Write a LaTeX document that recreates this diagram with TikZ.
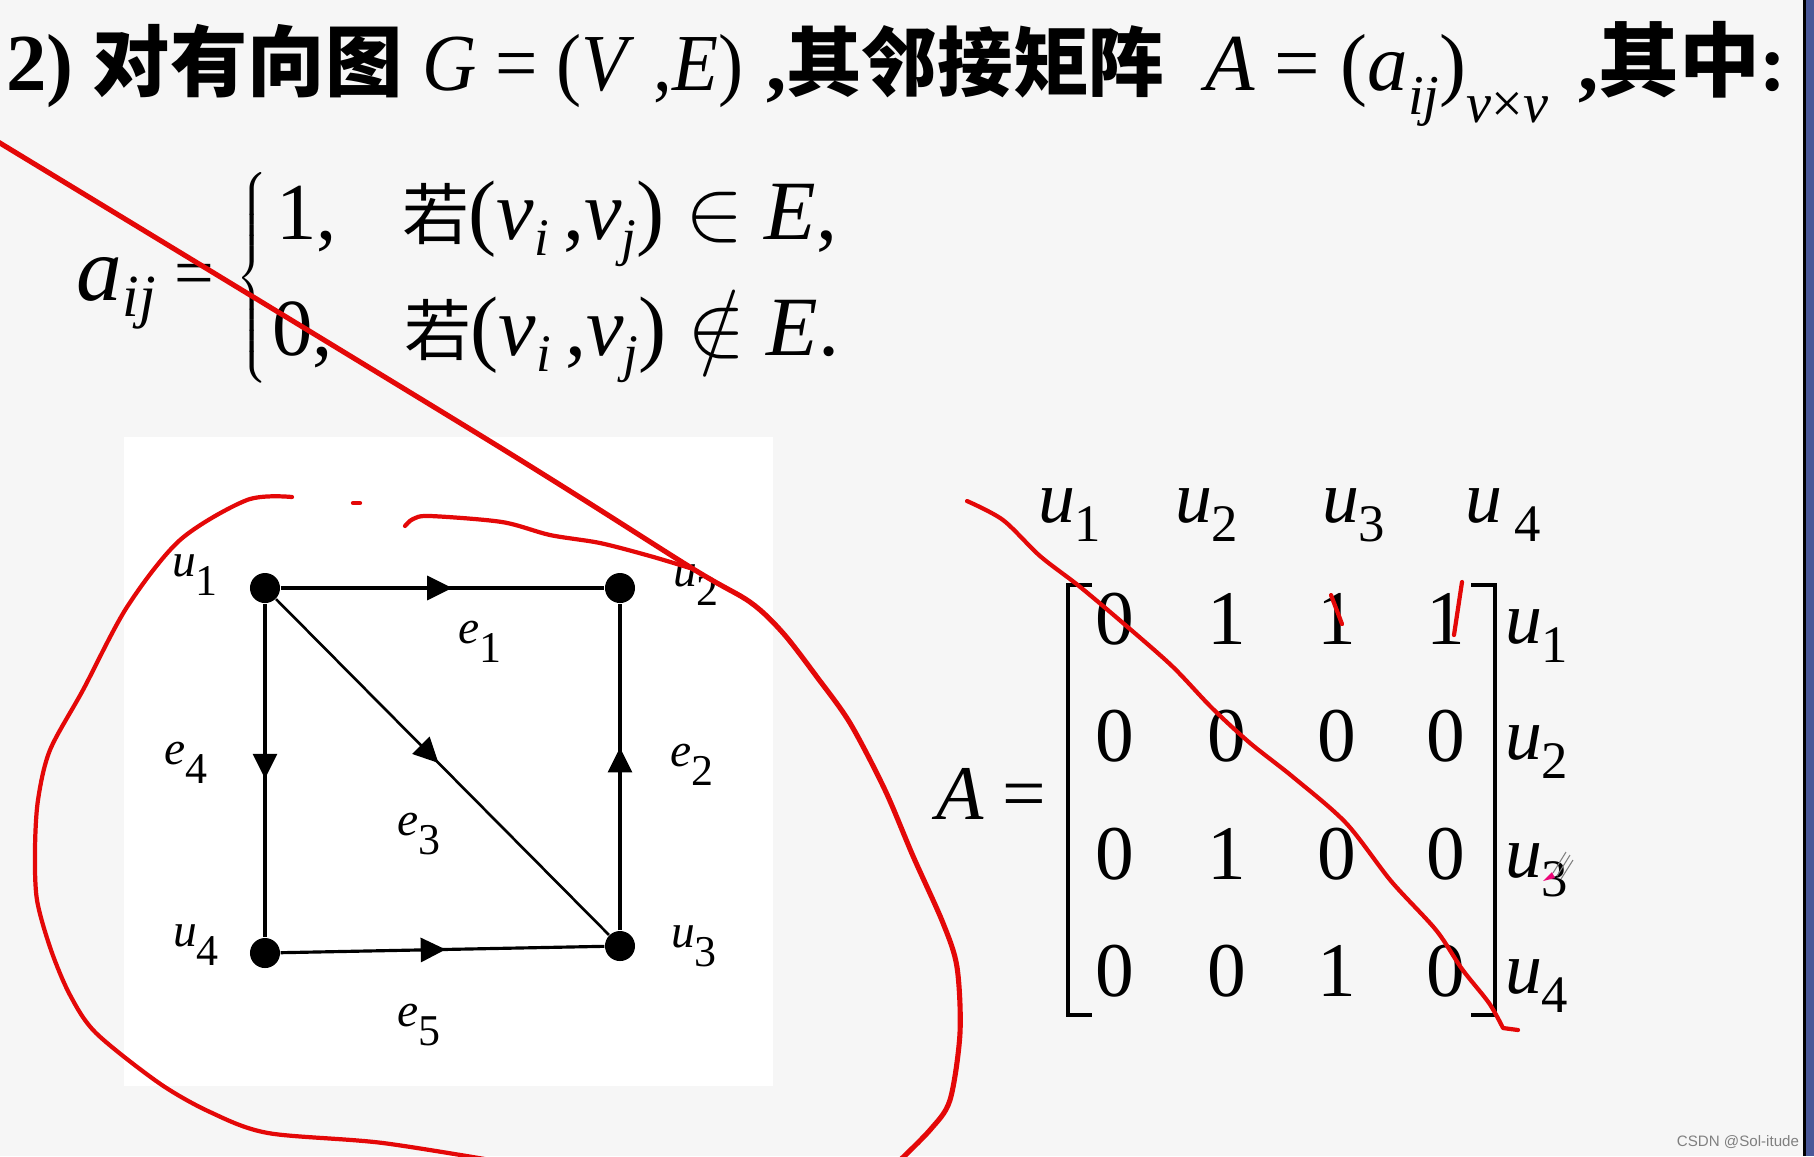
\documentclass[tikz,border=0pt]{standalone}
\usepackage{graphicx}
\usepackage{fontspec}
\setmainfont{Liberation Serif}
\newfontfamily\cjk{Noto Sans CJK SC}
\newfontfamily\wmfont{Liberation Sans}
\usetikzlibrary{arrows.meta,decorations.markings}
\definecolor{slidebg}{RGB}{246,246,246}
\definecolor{pen}{RGB}{228,8,8}
\definecolor{navy}{RGB}{74,88,152}
\newcommand\fs[1]{\fontsize{#1}{#1}\selectfont}
\newcommand\lowsub[2]{\raisebox{-#1}{#2}}
\newcommand\gl[2]{\fs{13.5}\textit{#1}\lowsub{0.4em}{\fs{12.5}#2}}
\newcommand\mlab[1]{\fs{21}\textit{u}\lowsub{0.27em}{\fs{15}#1}}
\begin{document}
\begin{tikzpicture}[x=0.01cm,y=-0.01cm,
  txt/.style={inner sep=0pt, outer sep=0pt},
  vtx/.style={circle, fill=black, minimum size=0.30cm, inner sep=0pt},
  edge/.style={line width=0.9pt},
  redpen/.style={draw=pen, line width=1.2pt, line cap=round, line join=round},
  midarrow/.style={postaction={decorate}, decoration={markings,
     mark=at position #1 with {\arrow{Triangle[length=0.25cm,width=0.24cm]}}}}]
\useasboundingbox (0,0) rectangle (1814,1156);
% background
\fill[slidebg] (0,0) rectangle (1803,1156);
\fill[white] (124,437) rectangle (773,1086);
\fill[black] (1803,0) rectangle (1806,1156);
\fill[navy] (1806,0) rectangle (1814,1156);

% title
\node[txt, anchor=base west] (t1) at (6,90) {\fs{23}\bfseries 2)};
\node[txt, anchor=base west] (t2) at (93,90) {\fs{22}\cjk\bfseries 对有向图};
\node[txt, anchor=base west] (t3) at (422,90) {\scalebox{0.93}[1]{\fs{23}\textit{G} = (\textit{V} ,\textit{E})}};
\node[txt, anchor=base west] (t4) at (766,90) {\fs{23}\bfseries ,{\fs{21.5}\cjk 其邻接矩阵}};
\node[txt, anchor=base west] (t5) at (1205,90) {\fs{23}\textit{A} = (\textit{a}\lowsub{0.3em}{\fs{16}\textit{ij}})\lowsub{0.4em}{\fs{16}\textit{v}×\textit{v}}};
\node[txt, anchor=base west] (t6) at (1578,90) {\fs{23}\bfseries ,{\cjk 其中}:};

% definition
\node[txt, anchor=base west] (aij) at (77,300) {\fs{26}\textit{a}\lowsub{0.18em}{\fs{17}\textit{ij}}};
\node[txt] (eqa) at (194,280) {\fs{20}=};
\node[txt] (brace) at (254,278) {$\left\{\vcenter{\hbox{\rule{0pt}{2.12cm}}}\right.$};
\node[txt, anchor=base west] (r1a) at (276,239) {\fs{23}1,};
\node[txt, anchor=base west] (r1b) at (402,239) {\fs{24}{\fs{19}\cjk 若}(\textit{v}\lowsub{0.2em}{\fs{15}\textit{i}}\,,\textit{v}\lowsub{0.2em}{\fs{15}\textit{j}}) $\in$ \textit{E},};
\node[txt, anchor=base west] (r2a) at (272,355) {\fs{23}0,};
\node[txt, anchor=base west] (r2b) at (404,355) {\fs{24}{\fs{19}\cjk 若}(\textit{v}\lowsub{0.2em}{\fs{15}\textit{i}}\,,\textit{v}\lowsub{0.2em}{\fs{15}\textit{j}}) $\notin$ \textit{E}.};

% graph
\node[vtx] (u1) at (265,588) {};
\node[vtx] (u2) at (620,588) {};
\node[vtx] (u3) at (620,946) {};
\node[vtx] (u4) at (265,953) {};
\draw[edge, midarrow=0.53] (u1) -- (u2);
\draw[edge, midarrow=0.56] (u3) -- (u2);
\draw[edge, line width=0.75pt, midarrow=0.49] (u1) -- (u3);
\draw[edge, midarrow=0.525] (u1) -- (u4);
\draw[edge, midarrow=0.51] (u4) -- (u3);
\node[txt] (lu1) at (195,575) {\gl{u}{1}};
\node[txt] (lu2) at (696,585) {\gl{u}{2}};
\node[txt] (lu3) at (694,946) {\gl{u}{3}};
\node[txt] (lu4) at (196,945) {\gl{u}{4}};
\node[txt] (le1) at (480,642) {\gl{e}{1}};
\node[txt] (le2) at (692,765) {\gl{e}{2}};
\node[txt] (le3) at (419,834) {\gl{e}{3}};
\node[txt] (le4) at (186,763) {\gl{e}{4}};
\node[txt] (le5) at (419,1025) {\gl{e}{5}};

% matrix
\node[txt, anchor=base west] (Aeq) at (936,819) {\fs{22}\textit{A} =};
\draw[line width=0.9pt] (1092,585) -- (1068,585) -- (1068,1015) -- (1092,1015);
\draw[line width=0.9pt] (1471,585) -- (1495,585) -- (1495,1015) -- (1471,1015);
\node[txt] (m11) at (1115,619) {\fs{22}0};
\node[txt] (m12) at (1227,619) {\fs{22}1};
\node[txt] (m13) at (1337,619) {\fs{22}1};
\node[txt] (m14) at (1446,619) {\fs{22}1};
\node[txt] (m21) at (1115,736) {\fs{22}0};
\node[txt] (m22) at (1227,736) {\fs{22}0};
\node[txt] (m23) at (1337,736) {\fs{22}0};
\node[txt] (m24) at (1446,736) {\fs{22}0};
\node[txt] (m31) at (1115,854) {\fs{22}0};
\node[txt] (m32) at (1227,854) {\fs{22}1};
\node[txt] (m33) at (1337,854) {\fs{22}0};
\node[txt] (m34) at (1446,854) {\fs{22}0};
\node[txt] (m41) at (1115,971) {\fs{22}0};
\node[txt] (m42) at (1227,971) {\fs{22}0};
\node[txt] (m43) at (1337,971) {\fs{22}1};
\node[txt] (m44) at (1446,971) {\fs{22}0};
\node[txt, anchor=base west] (c1) at (1038,522) {\mlab{1}};
\node[txt, anchor=base west] (c2) at (1175,522) {\mlab{2}};
\node[txt, anchor=base west] (c3) at (1322,522) {\mlab{3}};
\node[txt, anchor=base west] (c4) at (1465,522) {\fs{21}\textit{u}\,\lowsub{0.27em}{\fs{15}4}};
\node[txt, anchor=base west] (w1) at (1505,643) {\mlab{1}};
\node[txt, anchor=base west] (w2) at (1505,759) {\mlab{2}};
\node[txt, anchor=base west] (w3) at (1505,877) {\mlab{3}};
\node[txt, anchor=base west] (w4) at (1505,993) {\mlab{4}};

% red pen marks
\draw[redpen, line width=1.45pt] plot[smooth, tension=0.5] coordinates {(-5,140) (488,440) (690,567) (750,602) (783,633) (817,677) (850,723) (885,790) (913,856) (943,923) (957,967) (960,1033) (950,1100) (930,1130) (895,1165)};
\draw[redpen] plot[smooth, tension=0.5] coordinates {(292,497) (247,500) (180,540) (127,607) (83,690) (50,750) (38,800) (35,850) (37,900) (51,950) (70,995) (96,1033) (159,1083) (210,1112) (268,1133) (383,1143) (520,1165)};
\draw[redpen] plot[smooth, tension=0.5] coordinates {(405,526) (413,519) (430,516) (502,522) (550,535) (600,543) (650,556) (690,568)};
\draw[redpen] (353,503) -- (360,503);
\draw[redpen] plot[smooth, tension=0.5] coordinates {(967,501) (1003,520) (1040,556) (1079,586) (1123,623) (1172,666) (1212,708) (1250,743) (1293,777) (1346,823) (1391,881) (1436,930) (1462,969) (1489,1003) (1503,1028)} -- (1518,1030);
\draw[redpen] (1331,595) -- (1342,624);
\draw[redpen] (1462,582) -- (1454,635);
\fill[magenta!80!red] (1543,881) -- (1552,872) -- (1555,878) -- cycle;
\draw[gray, line width=0.3pt] (1553,873) -- (1566,852) (1557,876) -- (1570,855) (1561,879) -- (1573,860);

% watermark
\node[txt, anchor=base east, text=gray] (wm) at (1799,1146) {\wmfont\fs{4.3}CSDN @Sol-itude};
\end{tikzpicture}
\end{document}
